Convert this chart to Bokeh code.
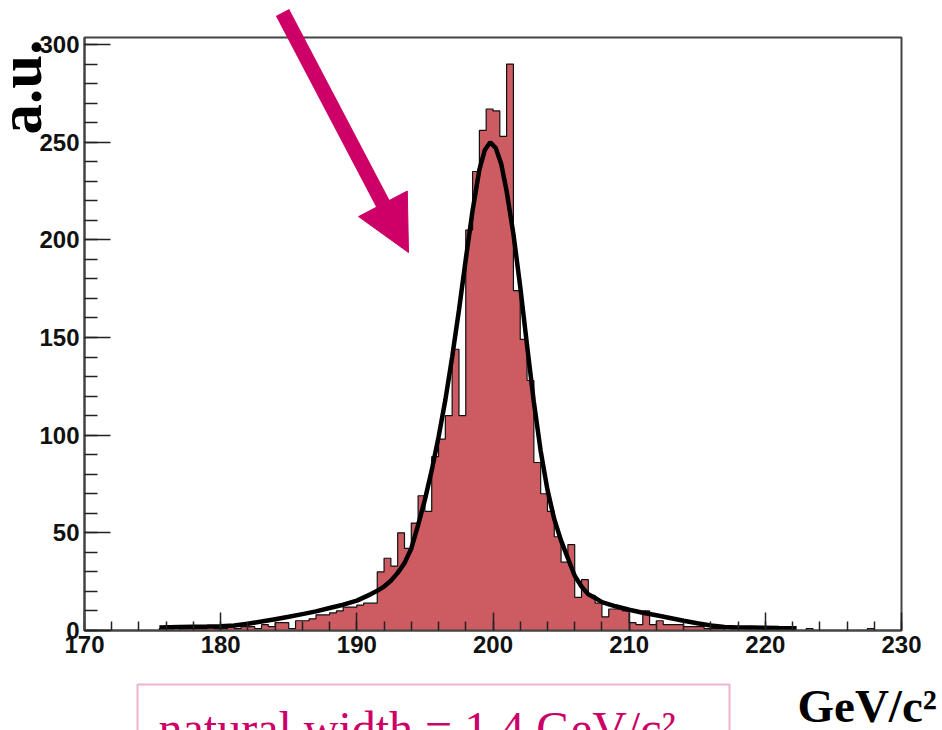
import numpy as np
from bokeh.plotting import figure
from bokeh.layouts import column
from bokeh.models import (Range1d, FixedTicker, SingleIntervalTicker, Label,
                          Arrow, NormalHead, PolyAnnotation)
from bokeh.embed import file_html
from bokeh.resources import INLINE

# ---------------- data ----------------
x_lo, x_hi, n_bins = 170.0, 230.0, 120
counts = [
    # 170.0 - 175.0
    0, 0, 0, 0, 0, 0, 0, 0, 0, 0, 0,
    # 175.5 - 181.5
    1, 1, 0, 1, 1, 1, 1, 2, 1, 1, 2, 1, 2,
    # 182.0 - 191.0
    2, 1, 3, 2, 4, 4, 1, 5, 5, 6, 8, 8, 9, 10, 12, 12, 13, 14, 14,
    # 191.5 - 197.5
    30, 37, 33, 50, 42, 55, 69, 61, 89, 98, 110, 144, 110,
    # 198.0 - 203.5
    205, 235, 256, 267, 266, 253, 290, 174, 149, 128, 86, 70,
    # 204.0 - 209.5
    61, 48, 35, 44, 17, 26, 18, 14, 7, 11, 11, 10,
    # 210.0 - 215.5
    4, 3, 10, 3, 5, 3, 3, 3, 2, 2, 2, 1,
    # 216.0 - 221.5
    1, 1, 0, 1, 1, 1, 0, 1, 1, 1, 1, 1,
    # 222.0 - 229.5
    0, 0, 1, 0, 0, 0, 0, 0, 0, 0, 0, 1, 0, 0, 0, 0,
]

fit_x = [175.5, 177, 178, 179, 180, 181, 182, 183, 184, 185, 186, 187, 188,
         189, 190, 191, 191.5, 192, 192.5, 193, 193.5, 194, 194.5, 195, 195.5,
         196, 196.5, 197, 197.5, 198, 198.5, 199, 199.4, 199.8, 200.2, 200.6,
         201, 201.5, 202, 202.5, 203, 203.5, 204, 204.5, 205, 205.5, 206,
         206.5, 207, 207.5, 208, 209, 210, 211, 212, 213, 214, 215, 216, 217,
         218, 219, 220, 221, 222.3]
fit_y = [1.6, 1.8, 1.9, 2.0, 2.2, 2.6, 3.5, 4.6, 5.8, 7.0, 8.4, 9.8, 11.5,
         13.2, 15.3, 18.5, 20.3, 22.5, 25.5, 29.5, 34.5, 42, 54, 67, 82,
         99, 118, 140, 164, 190, 215, 236, 246, 250, 247, 239,
         225, 203, 176, 146, 117, 92, 72, 57, 46, 37, 28,
         22.5, 18.5, 16.7, 14.5, 12.4, 10.6, 9.1, 7.8, 6.4, 5.0, 3.7, 2.6, 1.8,
         1.6, 1.5, 1.4, 1.3, 1.2]

x_major = [170, 180, 190, 200, 210, 220, 230]
x_minor = list(range(170, 231, 2))
y_max = 303.6

# ---------------- main figure ----------------
W, H = 942, 730
FL, FR, FT, FB = 84, 901, 37, 630   # frame edges in pixels

p = figure(width=W, height=H, output_backend="svg", toolbar_location=None,
           x_range=Range1d(x_lo, x_hi), y_range=Range1d(0, y_max),
           min_border_left=FL, min_border_right=W - FR,
           min_border_top=FT, min_border_bottom=H - FB,
           background_fill_color="white", border_fill_color="white")
p.frame_align = False
p.xgrid.visible = False
p.ygrid.visible = False
p.outline_line_color = "#444444"
p.outline_line_width = 2

def px2x(px):
    return x_lo + (px - FL) * (x_hi - x_lo) / (FR - FL)

def py2y(py):
    return (FB - py) * y_max / (FB - FT)

edges = list(np.linspace(x_lo, x_hi, n_bins + 1))
tops = counts + [counts[-1]]
p.varea_step(x=edges, y1=[0] * len(edges), y2=tops, step_mode="after",
             fill_color="#cd5b62")
p.step(x=edges, y=tops, mode="after", line_color="#111111", line_width=1.2)
p.line(fit_x, fit_y, line_color="black", line_width=4.5)

for ax in (p.xaxis[0], p.yaxis[0]):
    ax.axis_line_color = "#444444"
    ax.axis_line_width = 2
    ax.major_tick_line_color = "#222222"
    ax.minor_tick_line_color = "#222222"
    ax.major_tick_line_width = 1.5
    ax.minor_tick_line_width = 1.5
    ax.major_tick_out = 0
    ax.minor_tick_out = 0
    ax.major_label_text_font = "Liberation Sans"
    ax.major_label_text_font_style = "bold"
    ax.major_label_text_font_size = "24px"
    ax.major_label_text_color = "#111111"
    ax.major_label_standoff = 5

p.xaxis.ticker = FixedTicker(ticks=x_major, minor_ticks=x_minor)
p.xaxis.major_tick_in = 18
p.xaxis.minor_tick_in = 9
p.yaxis.ticker = SingleIntervalTicker(interval=50, num_minor_ticks=5)
p.yaxis.major_tick_in = 26
p.yaxis.minor_tick_in = 13

# ---------------- transparent overlay for slide annotations ----------------
ov = figure(width=W, height=H, output_backend="svg", toolbar_location=None,
            x_range=Range1d(px2x(0), px2x(W)), y_range=Range1d(py2y(H), py2y(0)),
            x_axis_type=None, y_axis_type=None,
            min_border_left=0, min_border_right=0,
            min_border_top=0, min_border_bottom=0,
            background_fill_alpha=0, border_fill_alpha=0,
            outline_line_color=None)
ov.frame_align = False
ov.xgrid.visible = False
ov.ygrid.visible = False
ov.styles = {"position": "absolute", "left": "0px", "top": "0px"}

MAG = "#cc0066"

ov.add_layout(Label(x=px2x(20), y=py2y(134), text="a.u.", angle=np.pi / 2,
                    text_font="Liberation Serif", text_font_style="bold",
                    text_font_size="61px", text_color="black",
                    text_align="left", text_baseline="alphabetic"))
ov.add_layout(Label(x=px2x(797), y=py2y(705), text="GeV/c²",
                    text_font="Liberation Serif", text_font_style="bold",
                    text_font_size="47px", text_color="black",
                    text_align="left", text_baseline="alphabetic"))

ov.add_layout(Arrow(x_start=px2x(282), y_start=py2y(12),
                    x_end=px2x(408), y_end=py2y(252),
                    line_color=MAG, line_width=15,
                    end=NormalHead(size=55, fill_color=MAG, line_color=MAG,
                                   line_width=1)))

ov.add_layout(PolyAnnotation(xs=[px2x(137), px2x(137), px2x(729), px2x(729)],
                             ys=[py2y(790), py2y(684), py2y(684), py2y(790)],
                             line_color=MAG, line_width=2, fill_alpha=0))
ov.add_layout(Label(x=px2x(158), y=py2y(728), text="natural width = 1.4 GeV/c²",
                    text_font="Liberation Serif", text_font_size="48px",
                    text_color=MAG, text_align="left",
                    text_baseline="alphabetic"))

layout = column(p, ov, width=W, height=H)

open("out.html", "w").write(file_html(layout, INLINE))
